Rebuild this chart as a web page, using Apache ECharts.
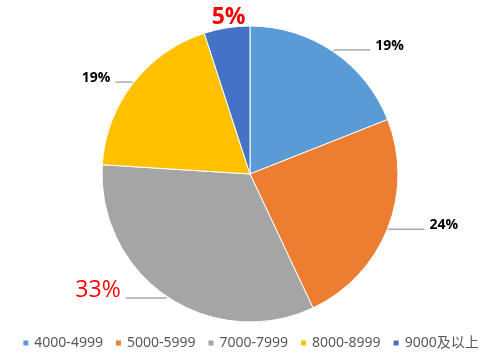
<!DOCTYPE html>
<html><head><meta charset="utf-8">
<script src="https://cdn.jsdelivr.net/npm/echarts@6/dist/echarts.min.js"></script>
<style>html,body{margin:0;padding:0;background:#fff}#c{width:500px;height:364px}</style>
</head><body><div id="c"></div>
<script>
const categories = ['4000-4999','5000-5999','7000-7999','8000-8999','9000及以上'];
const values = [19, 24, 33, 19, 5];
const labels = ['19%','24%','33%','19%','5%'];
const colors = ['#5B9BD5','#ED7D31','#A5A5A5','#FFC000','#4472C4'];
const highlight = [false,false,true,false,true];
const lineLen2 = [36, 35, 40, 16, 0];

const chart = echarts.init(document.getElementById('c'));
const data = categories.map((n,i)=>{
  const d = {name:n, value:values[i], itemStyle:{color:colors[i]},
    labelLine:{show:i!==4, length:2, length2:lineLen2[i]}};
  if (highlight[i]) {
    d.label = {color:'#FF0000', fontSize:23, fontWeight: i===4 ? 'bold':'normal'};
  }
  return d;
});
chart.setOption({
  animation:false,
  legend:{
    bottom:9, left:'center', icon:'rect', itemWidth:7, itemHeight:7, itemGap:11,
    textStyle:{color:'#595959', fontSize:14, fontFamily:'Noto Sans, Noto Sans CJK SC'},
    data:categories
  },
  series:[{
    type:'pie', center:[250,174], radius:[0,148], startAngle:90, clockwise:true,
    itemStyle:{borderColor:'#fff', borderWidth:1},
    label:{show:true, position:'outside', formatter:p=>labels[p.dataIndex],
      color:'#000', fontSize:14, fontWeight:'bold', fontFamily:'Open Sans'},
    labelLine:{show:true, lineStyle:{color:'#808080', width:1}},
    labelLayout:function(p){
      if(p.dataIndex===4) return {dx:24, dy:-8};
      if(p.dataIndex===2) return {dy:-8};
      return {dy:-4};
    },
    data:data
  }]
});
</script></body></html>
